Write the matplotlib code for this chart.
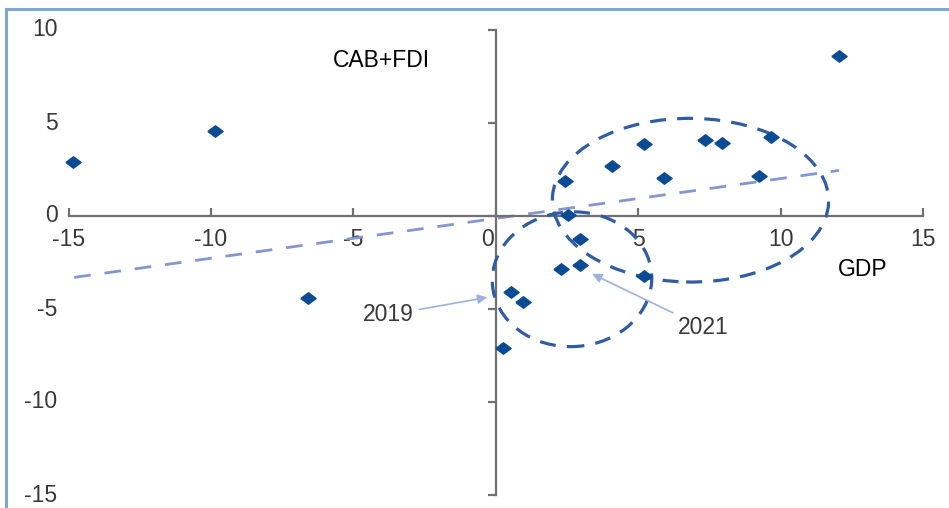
import matplotlib
matplotlib.use("Agg")
import matplotlib.pyplot as plt
import matplotlib.transforms as mtransforms
from matplotlib.patches import Ellipse
from matplotlib.lines import Line2D

plt.rcParams['font.family'] = ['Liberation Sans', 'DejaVu Sans']

# GDP growth vs CAB+FDI (% of GDP)
gdp = [-14.85, -9.85, -6.6, 12.05, 2.45, 4.1, 5.2, 5.9, 7.35, 7.95, 9.65, 9.25,
       2.55, 2.95, 2.3, 2.95, 5.2, 0.55, 0.95, 0.25]
cab_fdi = [2.9, 4.55, -4.4, 8.6, 1.9, 2.7, 3.85, 2.05, 4.1, 3.95, 4.25, 2.15,
           0.05, -1.25, -2.85, -2.65, -3.25, -4.1, -4.65, -7.1]

# fitted trend line at its two ends
trend_x = [-14.8, 12.05]
trend_y = [-3.3, 2.45]

# circled groups: centre, width, height
groups = [((6.84, 0.85), 9.7, 8.8), ((2.68, -3.4), 5.6, 7.25)]

xticks = [-15, -10, -5, 0, 5, 10, 15]
yticks = [10, 5, 0, -5, -10, -15]

fig = plt.figure(figsize=(9.49, 5.08), dpi=100)
ax = fig.add_axes([68.5 / 949, 13 / 508, 854.4 / 949, 465 / 508])
ax.set_xlim(-15, 15)
ax.set_ylim(-15, 10)

axis_col = '#707070'
lab_col = '#383838'
for s in ['top', 'right']:
    ax.spines[s].set_visible(False)
ax.spines['left'].set_position(('data', 0))
ax.spines['bottom'].set_position(('data', 0))
for s in ['left', 'bottom']:
    ax.spines[s].set_color(axis_col)
    ax.spines[s].set_linewidth(1.6)

ax.set_xticks(xticks)
ax.set_xticklabels([str(t) for t in xticks])
ax.tick_params(axis='x', direction='in', length=6, width=1.6, color=axis_col,
               labelsize=16.5, labelcolor=lab_col, pad=9)
# the "0" label sits a little left of the vertical axis
zero_lab = ax.get_xticklabels()[xticks.index(0)]
zero_lab.set_transform(zero_lab.get_transform() +
                       mtransforms.ScaledTranslation(-6 / 72, 0, fig.dpi_scale_trans))
ax.set_yticks(yticks)
ax.set_yticklabels([])
ax.tick_params(axis='y', direction='out', length=6, width=1.6, color=axis_col)
for t in yticks:
    ax.text(-0.013, t, str(t), transform=ax.get_yaxis_transform(),
            ha='right', va='center', fontsize=16.5, color=lab_col)

ax.plot(trend_x, trend_y, color='#8496cd', lw=2.0, ls=(0, (6, 5)), zorder=2)

for (c, w, h) in groups:
    ax.add_patch(Ellipse(c, w, h, angle=-2, fill=False, ec='#2f5ca3', lw=2.3,
                         ls=(0, (5, 3.5)), zorder=3))

diamond = [(-1, 0), (0, 0.75), (1, 0), (0, -0.75), (-1, 0)]
ax.plot(gdp, cab_fdi, ls='none', marker=diamond, ms=11, color='#0b4b93',
        zorder=4, clip_on=False)

ax.text(-4.0, 8.35, 'CAB+FDI', ha='center', va='center', fontsize=16.5, color='black')
ax.text(12.9, -2.9, 'GDP', ha='center', va='center', fontsize=16.5, color='black')

arrow = dict(arrowstyle='-|>', color='#9fb2dc', lw=1.2, mutation_scale=14)
ax.annotate('2019', xy=(-0.2, -4.35), xytext=(-3.77, -5.32), ha='center',
            va='center', fontsize=16.5, color=lab_col, arrowprops=arrow)
ax.annotate('2021', xy=(3.3, -3.05), xytext=(7.3, -6.0), ha='center',
            va='center', fontsize=16.5, color=lab_col, arrowprops=arrow)

# light blue frame on the left and top edges
frame_col = '#7ea6d2'
fig.add_artist(Line2D([6 / 949, 6 / 949], [0, 1 - 9 / 508], color=frame_col, lw=2.2))
fig.add_artist(Line2D([6 / 949, 1], [1 - 9 / 508, 1 - 9 / 508], color=frame_col, lw=2.2))

fig.savefig('out.png', dpi=100)
